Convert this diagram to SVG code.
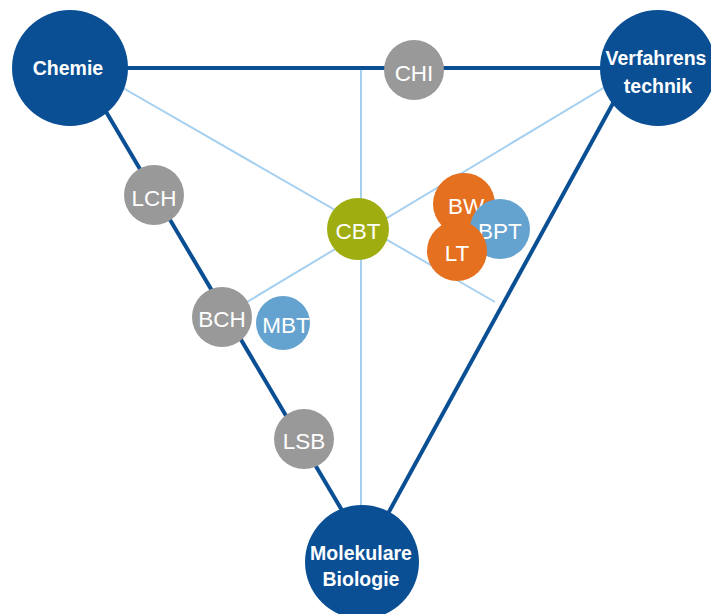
<svg xmlns="http://www.w3.org/2000/svg" width="711" height="614" viewBox="0 0 711 614">
<style>
.dark{stroke:#0a4f94;stroke-width:4;fill:none;stroke-linecap:butt}
.light{stroke:#a6d0f0;stroke-width:2;fill:none}
.big{fill:#0a4f94}
.gray{fill:#999999}
.olive{fill:#9fad10}
.orange{fill:#e5701f}
.blue{fill:#64a3cf}
.bt{font-family:"Liberation Sans",Arial,sans-serif;font-weight:bold;font-size:19.5px;fill:#fff;text-anchor:middle}
.st{font-family:"Liberation Sans",Arial,sans-serif;font-size:22.5px;fill:#fff;text-anchor:middle}
</style>
<rect width="711" height="614" fill="#fff"/>
<g id="connectors">
<line class="light" x1="361" y1="68" x2="361" y2="510"/>
<line class="light" x1="90" y1="69" x2="495" y2="302"/>
<line class="light" x1="640" y1="66" x2="222" y2="317"/>
<line class="dark" x1="70" y1="68" x2="658" y2="68"/>
<line class="dark" x1="92" y1="88" x2="372" y2="561"/>
<line class="dark" x1="634" y1="65" x2="362" y2="561"/>
</g>
<g id="chemie"><circle class="big" cx="70" cy="68" r="58"/><text class="bt" x="68" y="75">Chemie</text></g>
<g id="verfahrenstechnik"><circle class="big" cx="658" cy="68" r="58"/><text class="bt" x="656" y="65">Verfahrens</text><text class="bt" x="658" y="93">technik</text></g>
<g id="molekulare-biologie"><circle class="big" cx="362" cy="562" r="57"/><text class="bt" x="361" y="560">Molekulare</text><text class="bt" x="361" y="586">Biologie</text></g>
<g id="chi"><circle class="gray" cx="414" cy="70" r="30"/><text class="st" x="414" y="81">CHI</text></g>
<g id="lch"><circle class="gray" cx="154" cy="195" r="30"/><text class="st" x="154" y="206">LCH</text></g>
<g id="bch"><circle class="gray" cx="222" cy="317" r="30"/><text class="st" x="222" y="327">BCH</text></g>
<g id="mbt"><circle class="blue" cx="283" cy="323" r="27"/><text class="st" x="286" y="333">MBT</text></g>
<g id="lsb"><circle class="gray" cx="304" cy="439" r="30"/><text class="st" x="304" y="449">LSB</text></g>
<g id="cbt"><circle class="olive" cx="358" cy="229" r="31"/><text class="st" x="358" y="239">CBT</text></g>
<g id="bw"><circle class="orange" cx="464" cy="204" r="31"/><text class="st" x="466" y="214">BW</text></g>
<g id="bpt"><circle class="blue" cx="500" cy="229" r="30"/><text class="st" x="500" y="239">BPT</text></g>
<g id="lt"><circle class="orange" cx="457" cy="251" r="30"/><text class="st" x="457" y="261">LT</text></g>
</svg>
